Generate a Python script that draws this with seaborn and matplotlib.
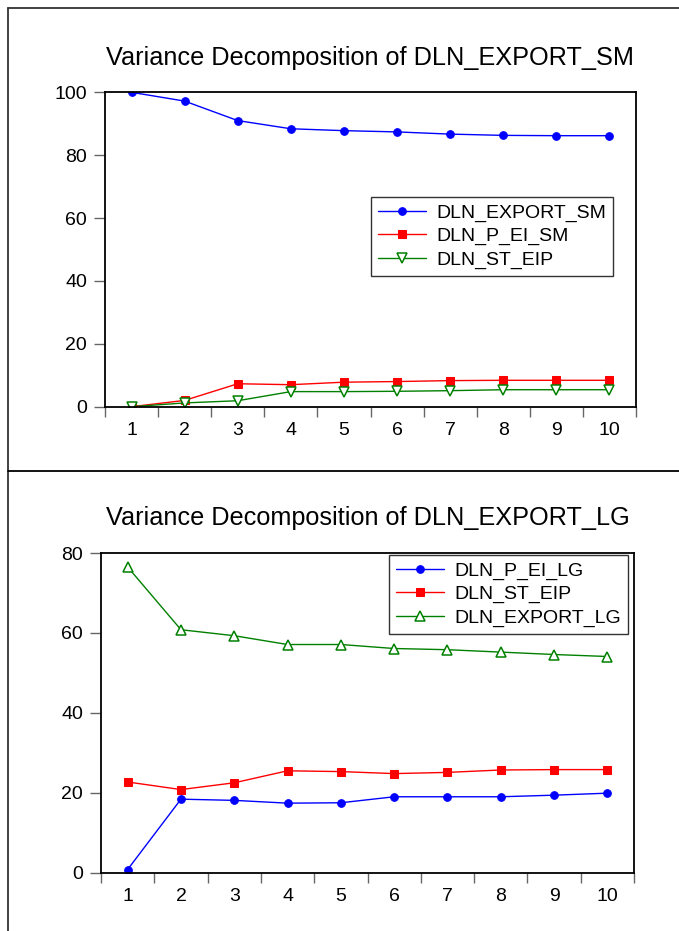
import matplotlib
matplotlib.use("Agg")
import matplotlib.pyplot as plt
from matplotlib.lines import Line2D
from matplotlib.ticker import FixedLocator
import seaborn as sns
import numpy as np

periods = [1, 2, 3, 4, 5, 6, 7, 8, 9, 10]

# Panel 1: Variance Decomposition of DLN_EXPORT_SM
sm_export = [100.0, 97.2, 91.0, 88.4, 87.8, 87.4, 86.7, 86.3, 86.2, 86.2]
sm_p_ei = [0.0, 2.0, 7.3, 7.0, 7.8, 8.0, 8.3, 8.4, 8.4, 8.4]
sm_st_eip = [0.0, 1.2, 1.9, 4.8, 4.8, 4.9, 5.1, 5.4, 5.4, 5.4]

# Panel 2: Variance Decomposition of DLN_EXPORT_LG
lg_p_ei = [0.8, 18.4, 18.1, 17.4, 17.5, 19.0, 19.0, 19.0, 19.4, 19.9]
lg_st_eip = [22.7, 20.8, 22.5, 25.5, 25.3, 24.8, 25.1, 25.7, 25.8, 25.8]
lg_export = [76.5, 60.8, 59.3, 57.1, 57.1, 56.1, 55.8, 55.2, 54.6, 54.1]

title1 = "Variance Decomposition of DLN_EXPORT_SM"
title2 = "Variance Decomposition of DLN_EXPORT_LG"
labels1 = ["DLN_EXPORT_SM", "DLN_P_EI_SM", "DLN_ST_EIP"]
labels2 = ["DLN_P_EI_LG", "DLN_ST_EIP", "DLN_EXPORT_LG"]
yticks1 = [0, 20, 40, 60, 80, 100]
yticks2 = [0, 20, 40, 60, 80]

sns.set_style("white")
plt.rcParams["font.family"] = ["Liberation Sans", "DejaVu Sans"]
plt.rcParams["text.color"] = "black"

W, H = 679, 931
fig = plt.figure(figsize=(W / 100, H / 100), dpi=100)


def fx(px):
    return px / W


def fy(py):
    return 1 - py / H


styles = [
    dict(color="#0000ff", marker="o", markersize=5.5, markerfacecolor="#0000ff", markeredgecolor="#0000ff"),
    dict(color="#ff0000", marker="s", markersize=6, markerfacecolor="#ff0000", markeredgecolor="#ff0000"),
]
green_down = dict(color="#008000", marker="v", markersize=6.5, markerfacecolor="white", markeredgecolor="#008000", markeredgewidth=1.1)
green_up = dict(color="#008000", marker="^", markersize=6.5, markerfacecolor="white", markeredgecolor="#008000", markeredgewidth=1.1)

TICK_FS = 14
LEG_FS = 14
TITLE_FS = 18.2


def panel(box, series, labels, sty, ymax, yticks, title, leg_anchor):
    l, r, t, b = box
    ax = fig.add_axes([fx(l), fy(b), fx(r) - fx(l), fy(t) - fy(b)])
    for vals, lab, st in zip(series, labels, sty):
        sns.lineplot(x=periods, y=vals, ax=ax, label=lab, linewidth=1.0, **st)
    ax.set_xlim(0.5, 10.5)
    ax.set_ylim(0, ymax)
    ax.set_yticks(yticks)
    ax.set_xticks(periods)
    ax.xaxis.set_minor_locator(FixedLocator(np.arange(0.5, 11, 1.0)))
    ax.tick_params(axis="x", which="major", length=0, pad=11, labelsize=TICK_FS, colors="black")
    ax.tick_params(axis="x", which="minor", length=7, width=1, color="#666666", direction="out", bottom=True)
    ax.tick_params(axis="y", which="major", length=8, width=1, color="#666666", direction="out", left=True, pad=5, labelsize=TICK_FS, labelcolor="black")
    for s in ax.spines.values():
        s.set_color("black")
        s.set_linewidth(1.3)
        s.set_visible(True)
    ax.set_xlabel("")
    ax.set_ylabel("")
    ax.set_title(title, fontsize=TITLE_FS, pad=20, color="black")
    leg = ax.legend(loc="upper left", bbox_to_anchor=leg_anchor, frameon=True, fancybox=False,
                    edgecolor="black", fontsize=LEG_FS, handlelength=2.5, handletextpad=0.5,
                    labelspacing=0.3, borderpad=0.35, borderaxespad=0)
    for tx in leg.get_texts():
        tx.set_color("black")
    leg.get_frame().set_linewidth(1.0)
    ax.grid(False)
    return ax


# top panel axes
l1, r1, t1, b1 = 105, 636, 92.3, 406.7
panel((l1, r1, t1, b1), [sm_export, sm_p_ei, sm_st_eip], labels1,
      [styles[0], styles[1], green_down], 100, yticks1, title1,
      ((371 - l1) / (r1 - l1), (b1 - 197) / (b1 - t1)))

l2, r2, t2, b2 = 101, 634, 553, 872.7
panel((l2, r2, t2, b2), [lg_p_ei, lg_st_eip, lg_export], labels2,
      [styles[0], styles[1], green_up], 80, yticks2, title2,
      ((389 - l2) / (r2 - l2), (b2 - 555) / (b2 - t2)))

# outer frame lines
lc = "#333333"
fig.add_artist(Line2D([fx(8), fx(8)], [fy(7.5), 0], transform=fig.transFigure, color=lc, lw=1.3))
fig.add_artist(Line2D([fx(8), 1], [fy(7.5), fy(7.5)], transform=fig.transFigure, color=lc, lw=1.3))
fig.add_artist(Line2D([fx(8), 1], [fy(470.7), fy(470.7)], transform=fig.transFigure, color="black", lw=1.3))

fig.savefig("out.png", dpi=100, facecolor="white")
